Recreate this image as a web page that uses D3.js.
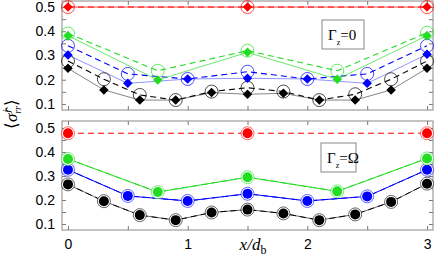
<!DOCTYPE html>
<html>
<head>
<meta charset="utf-8">
<script src="https://cdn.jsdelivr.net/npm/d3@7"></script>
<style>
  body { margin: 0; background: #fff; }
  svg { display: block; }
  .tick text { font-family: "Liberation Sans", Arial, sans-serif; font-size: 14px; fill: #000; }
  .domain { display: none; }
</style>
</head>
<body>
<div id="chart-area"></div>
<script>
// positions along x/d_b
var xRed = [0, 1.5, 3];
var xGreen = [0, 0.75, 1.5, 2.25, 3];
var xBlue = [0, 0.5, 1, 1.5, 2, 2.5, 3];
var xBlack = [0, 0.3, 0.6, 0.9, 1.2, 1.5, 1.8, 2.1, 2.4, 2.7, 3];

// top panel (Gamma_z = 0): filled diamonds and open circles
var topRedFill = [0.5, 0.5, 0.5];
var topRedOpen = [0.5, 0.5, 0.5];
var topGreenFill = [0.382, 0.199, 0.313, 0.202, 0.382];
var topGreenOpen = [0.391, 0.237, 0.32, 0.237, 0.394];
var topBlueFill = [0.302, 0.185, 0.203, 0.206, 0.203, 0.185, 0.305];
var topBlueOpen = [0.34, 0.224, 0.203, 0.233, 0.203, 0.224, 0.34];
var topBlackFill = [0.247, 0.158, 0.116, 0.116, 0.147, 0.14, 0.144, 0.116, 0.116, 0.158, 0.247];
var topBlackOpen = [0.277, 0.202, 0.137, 0.116, 0.151, 0.167, 0.151, 0.116, 0.14, 0.202, 0.277];

// bottom panel (Gamma_z = Omega)
var botRed = [0.478, 0.478, 0.478];
var botGreen = [0.371, 0.233, 0.295, 0.236, 0.373];
var botBlue = [0.326, 0.217, 0.196, 0.226, 0.196, 0.215, 0.326];
var botBlack = [0.265, 0.195, 0.137, 0.116, 0.148, 0.16, 0.144, 0.116, 0.14, 0.192, 0.268];

var xTicks = [0, 0.5, 1, 1.5, 2, 2.5, 3];
var xLabels = ["0", "", "1", "", "2", "", "3"];
var yTicks = [0.1, 0.15, 0.2, 0.25, 0.3, 0.35, 0.4, 0.45, 0.5];
var yLabels = ["0.1", "", "0.2", "", "0.3", "", "0.4", "", "0.5"];

var width = 436;
var height = 257;
var left = 62, right = 433;

var svg = d3.select("#chart-area")
    .append("svg")
    .attr("width", width)
    .attr("height", height);

var x = d3.scaleLinear().domain([-0.05, 3.05]).range([left, right]);

var colors = { red: "#ff0000", green: "#22dd22", blue: "#0000ff", black: "#000000" };

function zip(xs, ys) {
    return xs.map(function(v, i) { return [v, ys[i]]; });
}

function panel(top, bottom, domain) {
    var y = d3.scaleLinear().domain(domain).range([bottom, top]);
    var g = svg.append("g");

    g.append("g")
        .attr("transform", "translate(" + left + ",0)")
        .call(d3.axisLeft(y).tickValues(yTicks).tickSize(-4).tickPadding(7)
            .tickFormat(function(d, i) { return yLabels[i]; }));
    g.append("g")
        .attr("transform", "translate(" + right + ",0)")
        .call(d3.axisRight(y).tickValues(yTicks).tickSize(-4).tickFormat(""));
    g.append("g")
        .attr("transform", "translate(0," + top + ")")
        .call(d3.axisTop(x).tickValues(xTicks).tickSize(-4).tickFormat(""));
    g.append("g")
        .attr("class", "xaxis")
        .attr("transform", "translate(0," + bottom + ")")
        .call(d3.axisBottom(x).tickValues(xTicks).tickSize(-4).tickPadding(9)
            .tickFormat(function(d, i) { return xLabels[i]; }));
    g.selectAll(".tick line").attr("stroke", "#777");

    g.append("rect")
        .attr("x", left).attr("y", top)
        .attr("width", right - left).attr("height", bottom - top)
        .attr("fill", "none").attr("stroke", "#888").attr("stroke-width", 1);

    var line = d3.line()
        .x(function(d) { return x(d[0]); })
        .y(function(d) { return y(d[1]); });

    function drawLine(pts, color, w, dash, op) {
        g.append("path")
            .attr("d", line(pts))
            .attr("fill", "none")
            .attr("stroke", color)
            .attr("stroke-width", w)
            .attr("stroke-opacity", op)
            .attr("stroke-dasharray", dash);
    }

    var out = { g: g, y: y, line: drawLine };
    out.label = function(bx, by, w, sub) {
        var lg = g.append("g");
        lg.append("rect")
            .attr("x", bx).attr("y", by)
            .attr("width", w).attr("height", 29)
            .attr("fill", "#fff").attr("stroke", "#888").attr("stroke-width", 1);
        var t = lg.append("text")
            .attr("x", bx + 6).attr("y", by + 20)
            .attr("font-family", "Liberation Serif, serif")
            .attr("font-size", 15);
        t.append("tspan").text("Γ");
        t.append("tspan").attr("font-size", 8).attr("dy", 5).text("z");
        t.append("tspan").attr("dy", -5).text("=" + sub);
    };
    return out;
}

// ---------- top panel ----------
var p1 = panel(1, 110, [0.075, 0.525]);
var g1 = p1.g, y1 = p1.y;

var topSets = [
    { xs: xBlack, fill: topBlackFill, open: topBlackOpen, c: colors.black, solid: "#555" },
    { xs: xBlue, fill: topBlueFill, open: topBlueOpen, c: colors.blue, solid: "#6a6aff" },
    { xs: xGreen, fill: topGreenFill, open: topGreenOpen, c: colors.green, solid: "#33dd33" },
    { xs: xRed, fill: topRedFill, open: topRedOpen, c: colors.red, solid: "#ff0000" }
];

p1.label(322, 20, 42, "0");

topSets.forEach(function(s) {
    p1.line(zip(s.xs, s.fill), s.solid, 0.8, null, 0.9);
    p1.line(zip(s.xs, s.open), s.c, 1.1, "6,4", 1);
});

topSets.forEach(function(s) {
    g1.selectAll(null)
        .data(zip(s.xs, s.open))
        .enter()
        .append("circle")
        .attr("cx", function(d) { return x(d[0]); })
        .attr("cy", function(d) { return y1(d[1]); })
        .attr("r", 6.5)
        .attr("fill", "none")
        .attr("stroke", s.c)
        .attr("stroke-width", 0.7);
    g1.selectAll(null)
        .data(zip(s.xs, s.fill))
        .enter()
        .append("path")
        .attr("d", d3.symbol().type(d3.symbolDiamond2).size(58))
        .attr("transform", function(d) {
            return "translate(" + x(d[0]) + "," + y1(d[1]) + ")";
        })
        .attr("fill", s.c);
});

// ---------- bottom panel ----------
var p2 = panel(121, 230, [0.075, 0.529]);
var g2 = p2.g, y2 = p2.y;

var botSets = [
    { xs: xBlack, v: botBlack, c: colors.black, solid: "#666" },
    { xs: xBlue, v: botBlue, c: colors.blue, solid: colors.blue },
    { xs: xGreen, v: botGreen, c: colors.green, solid: colors.green },
    { xs: xRed, v: botRed, c: colors.red, solid: null }
];

p2.label(321, 143, 35, "Ω");

botSets.forEach(function(s) {
    if (s.solid) p2.line(zip(s.xs, s.v), s.solid, 1, null, 1);
    p2.line(zip(s.xs, s.v), s.c, 1, "6,4", 1);
});

botSets.forEach(function(s) {
    g2.selectAll(null)
        .data(zip(s.xs, s.v))
        .enter()
        .append("circle")
        .attr("cx", function(d) { return x(d[0]); })
        .attr("cy", function(d) { return y2(d[1]); })
        .attr("r", 6.5)
        .attr("fill", "#fff")
        .attr("stroke", s.c)
        .attr("stroke-width", 0.6);
    g2.selectAll(null)
        .data(zip(s.xs, s.v))
        .enter()
        .append("circle")
        .attr("cx", function(d) { return x(d[0]); })
        .attr("cy", function(d) { return y2(d[1]); })
        .attr("r", 5)
        .attr("fill", s.c);
});

// hide x labels of the top panel
g1.select(".xaxis").selectAll("text").remove();

// axis titles
var xt = svg.append("text")
    .attr("x", 253).attr("y", 250)
    .attr("text-anchor", "middle")
    .attr("font-family", "Liberation Serif, serif")
    .attr("font-size", 17);
xt.append("tspan").attr("font-style", "italic").text("x/d");
xt.append("tspan").attr("font-size", 12).attr("dy", 4).text("b");

var yt = svg.append("text")
    .attr("transform", "translate(17,114) rotate(-90)")
    .attr("text-anchor", "middle")
    .attr("font-family", "Liberation Serif, serif")
    .attr("font-size", 17);
yt.append("tspan").text("⟨");
yt.append("tspan").attr("font-style", "italic").text("σ̂");
yt.append("tspan").attr("font-style", "italic").attr("font-size", 10).attr("dx", 1).attr("dy", -7).text("j");
yt.append("tspan").attr("font-style", "italic").attr("font-size", 10).attr("dx", -4).attr("dy", 11).text("rr");
yt.append("tspan").attr("dy", -4).text("⟩");
</script>
</body>
</html>
